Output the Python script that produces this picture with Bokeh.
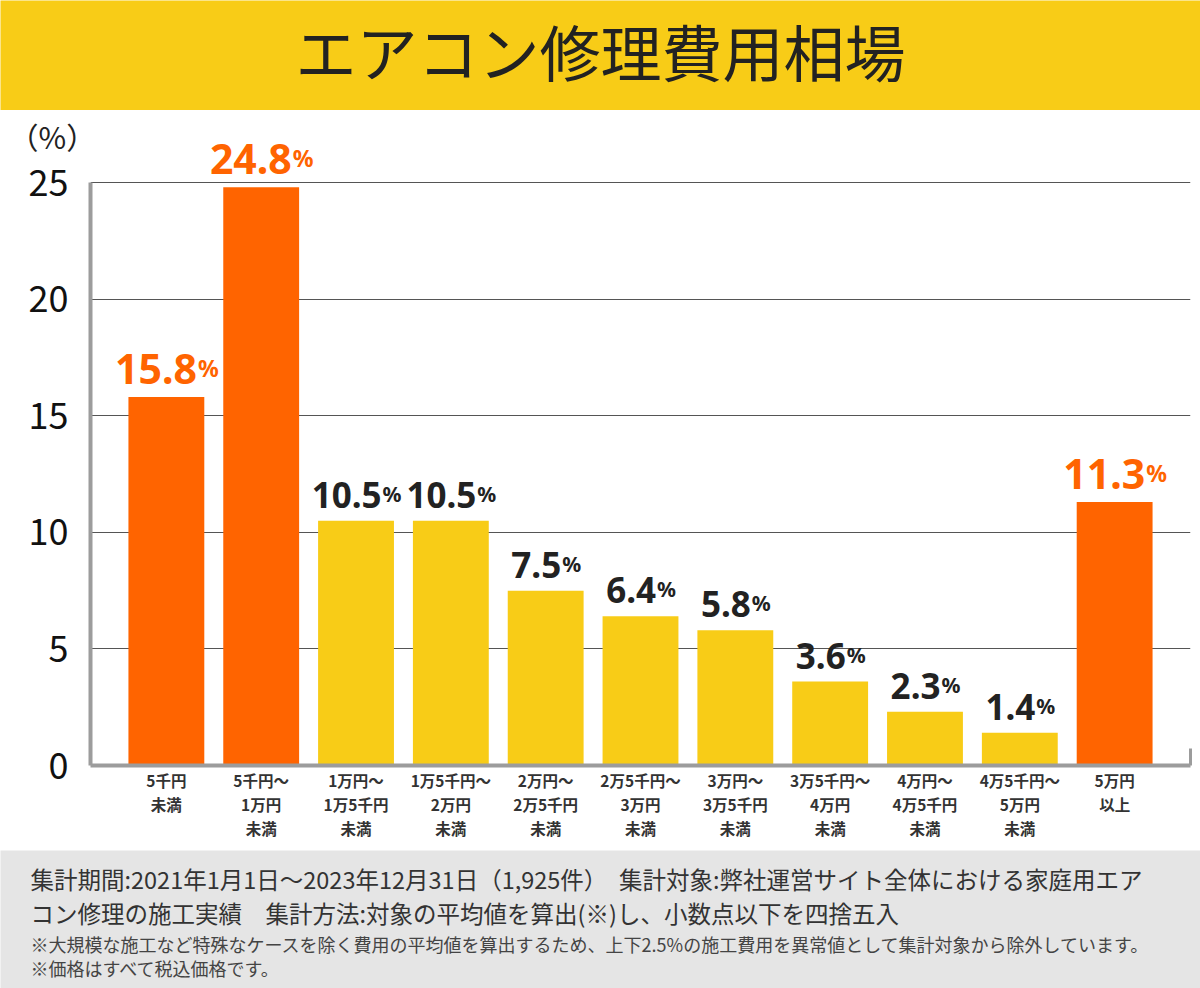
from bokeh.plotting import figure
from bokeh.models import Range1d, FixedTicker, LinearAxis, Label, Title, ColumnDataSource
from bokeh.layouts import column
from bokeh.embed import file_html
from bokeh.resources import INLINE
from bokeh.core.properties import value

# ---------------- data ----------------
title_text = "エアコン修理費用相場"
unit_label = "（%）"
categories = [
    "5千円\n未満",
    "5千円～\n1万円\n未満",
    "1万円～\n1万5千円\n未満",
    "1万5千円～\n2万円\n未満",
    "2万円～\n2万5千円\n未満",
    "2万5千円～\n3万円\n未満",
    "3万円～\n3万5千円\n未満",
    "3万5千円～\n4万円\n未満",
    "4万円～\n4万5千円\n未満",
    "4万5千円～\n5万円\n未満",
    "5万円\n以上",
]
shares = [15.8, 24.8, 10.5, 10.5, 7.5, 6.4, 5.8, 3.6, 2.3, 1.4, 11.3]
highlighted = [True, True, False, False, False, False, False, False, False, False, True]
y_ticks = [0, 5, 10, 15, 20, 25]
footer_lines = [
    "集計期間:2021年1月1日～2023年12月31日（1,925件）　集計対象:弊社運営サイト全体における家庭用エア",
    "コン修理の施工実績　集計方法:対象の平均値を算出(※)し、小数点以下を四捨五入",
]
note_lines = [
    "※大規模な施工など特殊なケースを除く費用の平均値を算出するため、上下2.5%の施工費用を異常値として集計対象から除外しています。",
    "※価格はすべて税込価格です。",
]

# ---------------- styles ----------------
YELLOW = "#F8CC17"
ORANGE = "#FF6400"
DARK = "#222222"
AXIS_GRAY = "#9c9c9c"
FOOT_BG = "#E5E5E5"
JP = "Noto Sans CJK JP"
NUMF = "Noto Sans"

# ---------------- title band ----------------
tfig = figure(width=1200, height=110, x_range=Range1d(0, 1200), y_range=Range1d(0, 110),
              output_backend="svg", toolbar_location=None, x_axis_type=None, y_axis_type=None,
              min_border=0, background_fill_color=YELLOW, border_fill_color=YELLOW,
              outline_line_color=None, frame_align=False)
tfig.add_layout(Label(x=600, y=60, text=title_text, text_align="center", text_baseline="middle",
                      text_font=JP, text_font_size="61px", text_color=DARK))

# ---------------- main chart ----------------
idx = list(range(len(categories)))
bar_colors = [ORANGE if h else YELLOW for h in highlighted]
lab_colors = [ORANGE if h else DARK for h in highlighted]
num_fs = [41 if h else 35 for h in highlighted]
pct_fs = [23 if h else 21 for h in highlighted]
num_txt = [f"{v:.1f}" for v in shares]


def num_width(s, fs):
    return sum(0.27 if ch == "." else 0.572 for ch in s) * fs


num_w = [num_width(s, f) for s, f in zip(num_txt, num_fs)]
pct_w = [0.88 * f for f in pct_fs]
num_off = [(a - b) / 2 for a, b in zip(num_w, pct_w)]

src = ColumnDataSource(dict(
    x=idx, top=shares, bar_color=bar_colors, lab_color=lab_colors,
    num=num_txt, pct=["%"] * len(idx),
    num_size=[f"{f}px" for f in num_fs], pct_size=[f"{f}px" for f in pct_fs],
    num_off=num_off, pct_off=[o + 1 for o in num_off],
))

p = figure(width=1200, height=740, x_range=Range1d(-0.8, 10.8), y_range=Range1d(0, 26.72),
           output_backend="svg", toolbar_location=None,
           min_border_left=90, min_border_right=10, min_border_top=32, min_border_bottom=85,
           outline_line_color=None, background_fill_color="white", border_fill_color="white",
           frame_align=False)

p.vbar(x="x", top="top", width=0.8, source=src, fill_color="bar_color", line_color=None)

p.text(x="x", y="top", text="num", source=src, text_color="lab_color", text_font=value(NUMF),
       text_font_style="bold", text_font_size="num_size", text_align="right",
       text_baseline="bottom", x_offset="num_off", y_offset=-13)
p.text(x="x", y="top", text="pct", source=src, text_color="lab_color", text_font=value(NUMF),
       text_font_style="bold", text_font_size="pct_size", text_align="left",
       text_baseline="bottom", x_offset="pct_off", y_offset=-13)

# y axis
yax = p.yaxis[0]
yax.ticker = FixedTicker(ticks=y_ticks)
yax.bounds = (0, 25)
yax.axis_line_color = AXIS_GRAY
yax.axis_line_width = 4
yax.major_tick_line_color = None
yax.minor_tick_line_color = None
yax.major_label_text_font = JP
yax.major_label_text_font_size = "36px"
yax.major_label_text_color = "#111111"
yax.major_label_standoff = 16

p.ygrid.ticker = FixedTicker(ticks=y_ticks)
p.ygrid.grid_line_color = "#555555"
p.ygrid.grid_line_width = 1
p.xgrid.visible = False

# x axis
xax = p.xaxis[0]
xax.ticker = FixedTicker(ticks=idx)
xax.major_label_overrides = {i: c for i, c in zip(idx, categories)}
xax.axis_line_color = AXIS_GRAY
xax.axis_line_width = 4
xax.major_tick_line_color = None
xax.minor_tick_line_color = None
xax.major_label_text_font = JP
xax.major_label_text_font_style = "bold"
xax.major_label_text_font_size = "15.5px"
xax.major_label_text_color = "#333333"
xax.major_label_text_line_height = 1.1
xax.major_label_standoff = -3

# small end mark on the right of the baseline
rax = LinearAxis(bounds=(0, 0.75), ticker=FixedTicker(ticks=[]), axis_line_color=AXIS_GRAY,
                 axis_line_width=3, major_tick_line_color=None, minor_tick_line_color=None,
                 major_label_text_font_size="0px")
p.add_layout(rax, "right")

# unit label "(%)" above the y axis
p.add_layout(Title(text=unit_label, align="left", offset=-82, standoff=-30,
                   text_font=JP, text_font_size="30px", text_font_style="normal",
                   text_color="#222222"), "above")

# ---------------- footer ----------------
ffig = figure(width=1200, height=138, x_range=Range1d(0, 1200), y_range=Range1d(138, 0),
              output_backend="svg", toolbar_location=None, x_axis_type=None, y_axis_type=None,
              min_border=0, background_fill_color=FOOT_BG, border_fill_color=FOOT_BG,
              outline_line_color=None, frame_align=False)
for i, t in enumerate(footer_lines):
    ffig.add_layout(Label(x=30, y=28 + 34 * i, text=t, text_align="left", text_baseline="middle",
                          text_font=JP, text_font_size="23.5px", text_color="#333333"))
for i, t in enumerate(note_lines):
    ffig.add_layout(Label(x=30, y=93 + 24 * i, text=t, text_align="left", text_baseline="middle",
                          text_font=JP, text_font_size="18px", text_color="#444444"))

layout = column(tfig, p, ffig, spacing=0)
open("out.html", "w").write(file_html(layout, INLINE))
